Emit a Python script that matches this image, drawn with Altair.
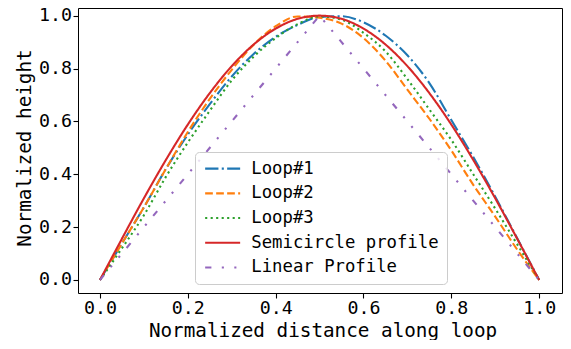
import altair as alt
import pandas as pd

# ---- data ----
x_vals = [0.0, 0.05, 0.10, 0.15, 0.20, 0.25, 0.30, 0.35, 0.40, 0.45, 0.50,
          0.55, 0.60, 0.65, 0.70, 0.75, 0.80, 0.85, 0.90, 0.95, 1.0]
loop1 = [0.0, 0.138, 0.275, 0.420, 0.550, 0.665, 0.770, 0.855, 0.920, 0.965, 0.995,
         0.998, 0.975, 0.925, 0.850, 0.745, 0.605, 0.465, 0.315, 0.158, 0.0]
loop2 = [0.0, 0.138, 0.275, 0.420, 0.560, 0.685, 0.795, 0.890, 0.960, 0.997, 0.992,
         0.970, 0.915, 0.830, 0.720, 0.610, 0.490, 0.360, 0.240, 0.115, 0.0]
loop3 = [0.0, 0.120, 0.245, 0.390, 0.520, 0.640, 0.755, 0.845, 0.915, 0.968, 0.997,
         0.985, 0.935, 0.865, 0.760, 0.645, 0.530, 0.400, 0.270, 0.135, 0.0]
semicircle = [0.0, 0.156, 0.309, 0.454, 0.588, 0.707, 0.809, 0.891, 0.951, 0.988, 1.0,
              0.988, 0.951, 0.891, 0.809, 0.707, 0.588, 0.454, 0.309, 0.156, 0.0]
linear_x = [0.0, 0.5, 1.0]
linear_y = [0.0, 1.0, 0.0]

series = ["Loop#1", "Loop#2", "Loop#3", "Semicircle profile", "Linear Profile"]
colors = ["#1f77b4", "#ff7f0e", "#2ca02c", "#d62728", "#9467bd"]
dashes = [[13.3, 3.3, 2.1, 3.3], [7.7, 3.3], [2.1, 3.4], [1, 0],
          [6.25, 10.4, 2.1, 10.4, 2.1, 10.4]]
tick_vals = [0.0, 0.2, 0.4, 0.6, 0.8, 1.0]

rows = []
for name, ys in zip(series[:4], [loop1, loop2, loop3, semicircle]):
    for xv, yv in zip(x_vals, ys):
        rows.append({"x": xv, "y": yv, "series": name})
curves = pd.DataFrame(rows)
linear = pd.DataFrame({"x": linear_x, "y": linear_y, "series": series[4]})

FONT = "DejaVu Sans Mono"

xenc = alt.X("x:Q", scale=alt.Scale(domain=[-0.05, 1.052], nice=False, zero=False),
             axis=alt.Axis(values=tick_vals, format=".1f", title="Normalized distance along loop",
                           titleX=244.5, titleY=43, titleBaseline="alphabetic", titleAlign="center",
                           labelPadding=1.5))
yenc = alt.Y("y:Q", scale=alt.Scale(domain=[-0.0492, 1.029], nice=False, zero=False),
             axis=alt.Axis(values=tick_vals, format=".1f", title="Normalized height",
                           titleX=-48, titleY=139.5, titleAngle=270, titleBaseline="alphabetic",
                           titleAlign="center", labelPadding=1.5))
color = alt.Color("series:N", scale=alt.Scale(domain=series, range=colors),
                  legend=alt.Legend(title=None, orient="none", legendX=117, legendY=144))
dash = alt.StrokeDash("series:N", scale=alt.Scale(domain=series, range=dashes),
                      legend=alt.Legend(title=None, orient="none", legendX=117, legendY=144))

base_curves = alt.Chart(curves).mark_line(strokeWidth=2.1, interpolate="monotone", strokeCap="butt").encode(
    x=xenc, y=yenc, color=color, strokeDash=dash)
base_linear = alt.Chart(linear).mark_line(strokeWidth=2.1, strokeCap="butt").encode(
    x=xenc, y=yenc, color=color, strokeDash=dash)

chart = alt.layer(base_curves, base_linear).properties(
    width=484, height=285,
    autosize=alt.AutoSizeParams(type="none"),
    padding={"left": 70, "top": 0, "right": 1, "bottom": 47},
    background="white",
).configure_view(
    stroke="black", strokeWidth=1
).configure_axis(
    grid=False, domain=False, tickSize=5, tickColor="black", tickWidth=1.1,
    labelFont=FONT, labelFontSize=18.3, labelColor="black", labelOverlap=False, labelFlush=False,
    titleFont=FONT, titleFontSize=19.3, titleFontWeight="normal", titleColor="black",
).configure_legend(
    labelFont=FONT, labelFontSize=17.3, labelColor="black", labelLimit=0,
    symbolType="M-8.75,0H8.75", symbolSize=16, symbolStrokeWidth=2.1,
    symbolOffset=11, labelOffset=20, rowPadding=6.7, padding=8,
    fillColor="rgba(255,255,255,0.8)", strokeColor="#cccccc", cornerRadius=4,
)

chart.save("out.html", embed_options={"renderer": "svg", "actions": False})
